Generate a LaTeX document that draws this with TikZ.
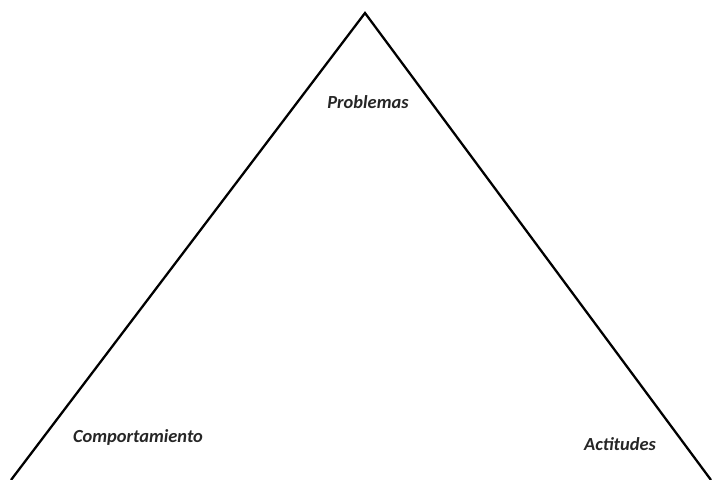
\documentclass[tikz,border=0pt]{standalone}
\usepackage{fontspec}
\setmainfont{Carlito}
\usepackage{tikz}
\usetikzlibrary{positioning}

\begin{document}
\begin{tikzpicture}[
    x=0.02cm, y=-0.02cm,
    label/.style={font=\bfseries\itshape\fontsize{10.5}{12}\selectfont, text=black!85},
    side/.style={draw, line width=1.3pt, line join=miter}
]
\useasboundingbox (0,0) rectangle (714,480);
\coordinate (top) at (365,13);
\coordinate (left) at (11,480);
\coordinate (right) at (711,480);

\node[label] (prob) at (368,102) {Problemas};
\node[label] (comp) at (138,437) {Comportamiento};
\node[label] (acti) at (620,444) {Actitudes};

\draw[side] (left) -- (top) -- (right);
\end{tikzpicture}
\end{document}
